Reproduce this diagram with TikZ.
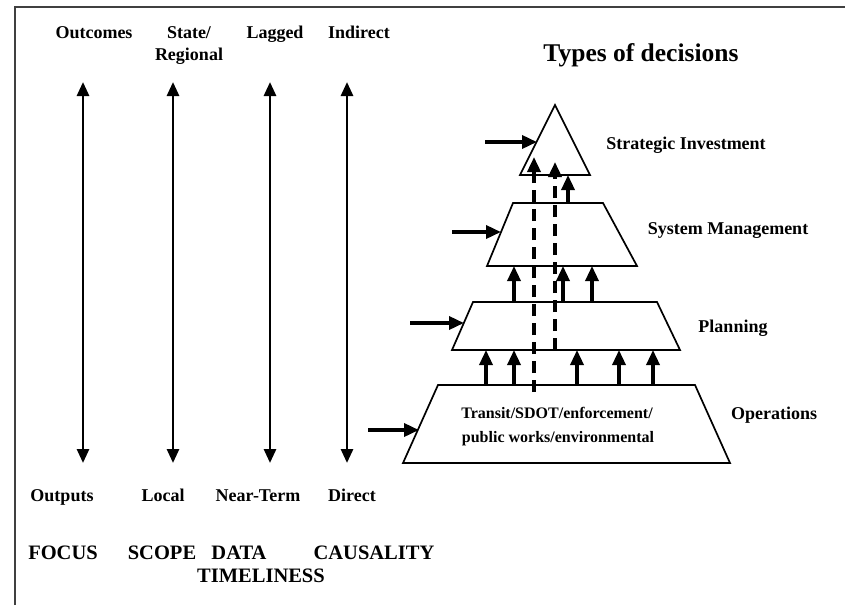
\documentclass[tikz,border=0pt]{standalone}
\usepackage{fontspec}
\setmainfont{Liberation Serif}
\usetikzlibrary{arrows.meta}
\begin{document}
\begin{tikzpicture}[x=1pt,y=-1pt,
  lbl/.style={font=\bfseries\fontsize{18}{20}\selectfont, anchor=base, inner sep=0pt},
  capt/.style={font=\bfseries\fontsize{20.5}{22}\selectfont, anchor=base, inner sep=0pt},
  ttl/.style={font=\bfseries\fontsize{25.5}{28}\selectfont, anchor=base, inner sep=0pt},
  inl/.style={font=\bfseries\fontsize{16}{18}\selectfont, anchor=base, inner sep=0pt},
  dimarrow/.style={line width=2.8pt, {Triangle[width=12pt,length=14pt]}-{Triangle[width=12pt,length=14pt]}},
  uparrow/.style={line width=3.3pt, -{Triangle[width=13pt,length=15pt]}},
  inarrow/.style={line width=3.5pt, -{Triangle[width=13pt,length=15pt]}},
  dasharrow/.style={line width=3.5pt, dash pattern=on 12pt off 7pt, -{Triangle[width=13pt,length=15pt]}},
  levelshape/.style={draw, line width=1.7pt, line join=miter},
  framestyle/.style={line width=1.2pt, draw=black!75},
]
\useasboundingbox (0,0) rectangle (845,605);

% frame
\draw[framestyle] (15,605) -- (15,7) -- (845,7);

% left dimension arrows
\coordinate (f1t) at (83,82);  \coordinate (f1b) at (83,463);
\coordinate (f2t) at (173,82); \coordinate (f2b) at (173,463);
\coordinate (f3t) at (270,82); \coordinate (f3b) at (270,463);
\coordinate (f4t) at (347,82); \coordinate (f4b) at (347,463);
\draw[dimarrow] (f1t) -- (f1b);
\draw[dimarrow] (f2t) -- (f2b);
\draw[dimarrow] (f3t) -- (f3b);
\draw[dimarrow] (f4t) -- (f4b);

% top labels
\node[lbl] (outcomes) at (94,38) {Outcomes};
\node[lbl] (state) at (189,38) {State/};
\node[lbl] (regional) at (189,60) {Regional};
\node[lbl] (lagged) at (275,38) {Lagged};
\node[lbl] (indirect) at (359,38) {Indirect};

% bottom labels
\node[lbl] (outputs) at (62,501) {Outputs};
\node[lbl] (local) at (163,501) {Local};
\node[lbl] (nearterm) at (258,501) {Near-Term};
\node[lbl] (direct) at (352,501) {Direct};

% captions
\node[capt] (focus) at (63,559) {FOCUS};
\node[capt] (scope) at (162,559) {SCOPE};
\node[capt] (data) at (239,559) {DATA};
\node[capt] (causality) at (374,559) {CAUSALITY};
\node[capt] (timeliness) at (261,582) {TIMELINESS};

% title
\node[ttl] (title) at (641,61) {Types of decisions};

% pyramid levels
\coordinate (ta) at (555,105); \coordinate (tl) at (520,175); \coordinate (tr) at (590,175);
\draw[levelshape] (ta) -- (tr) -- (tl) -- cycle;

\coordinate (s1) at (513,203); \coordinate (s2) at (603,203);
\coordinate (s3) at (637,266); \coordinate (s4) at (487,266);
\draw[levelshape] (s1) -- (s2) -- (s3) -- (s4) -- cycle;

\coordinate (p1) at (473,302); \coordinate (p2) at (657,302);
\coordinate (p3) at (680,350); \coordinate (p4) at (452,350);
\draw[levelshape] (p1) -- (p2) -- (p3) -- (p4) -- cycle;

\coordinate (o1) at (438,385); \coordinate (o2) at (695,385);
\coordinate (o3) at (730,463); \coordinate (o4) at (403,463);
\draw[levelshape] (o1) -- (o2) -- (o3) -- (o4) -- cycle;

% level labels
\node[lbl] (strategic) at (686,149) {Strategic Investment};
\node[lbl] (sysman) at (728,234) {System Management};
\node[lbl] (planning) at (733,332) {Planning};
\node[lbl] (operations) at (774,419) {Operations};
\node[inl] (opline1) at (557,418) {Transit/SDOT/enforcement/};
\node[inl] (opline2) at (558,442) {public works/environmental};

% input arrows
\coordinate (it0) at (485,142); \coordinate (it1) at (537,142);
\coordinate (is0) at (452,232); \coordinate (is1) at (501,232);
\coordinate (ip0) at (410,323); \coordinate (ip1) at (464,323);
\coordinate (io0) at (368,430); \coordinate (io1) at (419,430);
\draw[inarrow] (it0) -- (it1);
\draw[inarrow] (is0) -- (is1);
\draw[inarrow] (ip0) -- (ip1);
\draw[inarrow] (io0) -- (io1);

% operations -> planning
\foreach \x [count=\i] in {486,514,577,619,653} {
  \coordinate (op\i) at (\x,385);
  \coordinate (pl\i) at (\x,350);
  \draw[uparrow] (op\i) -- (pl\i);
}
% planning -> system management
\foreach \x [count=\i] in {514,563,592} {
  \coordinate (ps\i) at (\x,302);
  \coordinate (sp\i) at (\x,266);
  \draw[uparrow] (ps\i) -- (sp\i);
}
% system management -> strategic
\coordinate (st1) at (568,203); \coordinate (ts1) at (568,175);
\draw[uparrow] (st1) -- (ts1);

% dashed direct links
\coordinate (d1a) at (534,392); \coordinate (d1b) at (534,157);
\coordinate (d2a) at (555,350); \coordinate (d2b) at (555,162);
\draw[dasharrow] (d1a) -- (d1b);
\draw[dasharrow] (d2a) -- (d2b);
\end{tikzpicture}
\end{document}
